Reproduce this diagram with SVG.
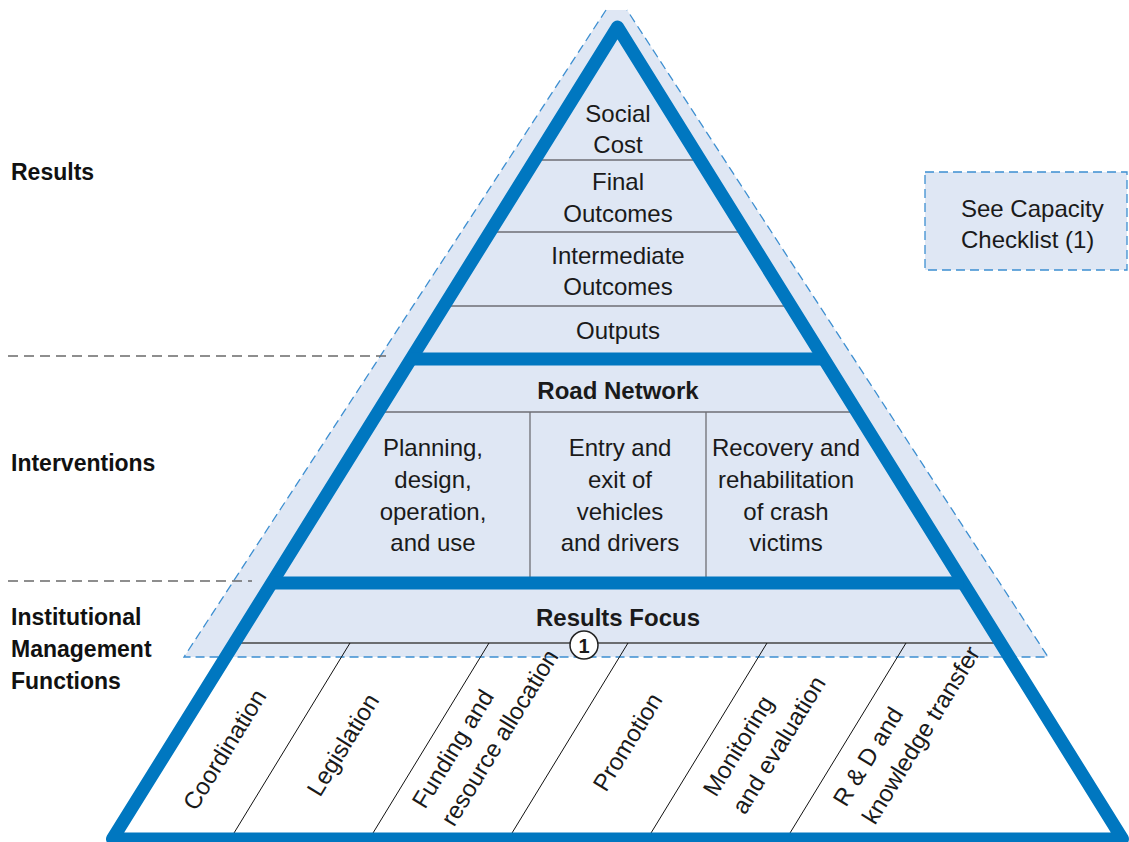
<svg xmlns="http://www.w3.org/2000/svg" width="1129" height="842" viewBox="0 0 1129 842">
<defs>
<style>
.t{font-family:"Liberation Sans",Arial,sans-serif;font-size:24px;fill:#1a1a1a}
.c{text-anchor:middle}
.b{font-weight:bold}
.lb{font-family:"Liberation Sans",Arial,sans-serif;font-size:23px;font-weight:bold;fill:#111}
.thin{stroke:#6e6e74;stroke-width:1.3;fill:none}
.diag{stroke:#111;stroke-width:1;fill:none}
.dash{stroke:#3d8fd1;stroke-width:1.3;stroke-dasharray:9 5;fill:none}
.gdash{stroke:#6a6a6a;stroke-width:1.3;stroke-dasharray:10 6;fill:none}
.blue{stroke:#0077c0;stroke-width:13;fill:none;stroke-linejoin:round}
.lf{fill:#dfe7f4}
</style>
</defs>
<rect width="1129" height="842" fill="#ffffff"/>

<g id="background">
<polygon class="lf" points="606,10 627,10 1048,657 184,657"/>
<polygon fill="#ffffff" points="225.6,657 1009.4,657 1122.5,839 112.5,839"/>
<path class="dash" d="M606,10 L184,657 L1048,657 L627,10"/>
</g>

<g id="connectors">
<line class="gdash" x1="8" y1="356" x2="390" y2="356"/>
<line class="gdash" x1="8" y1="581" x2="252" y2="581"/>
</g>

<g id="results">
<line class="thin" x1="534.8" y1="160" x2="700.2" y2="160"/>
<line class="thin" x1="490" y1="232" x2="745" y2="232"/>
<line class="thin" x1="444" y1="306" x2="791" y2="306"/>
<text class="t c" x="618" y="122">Social</text>
<text class="t c" x="618" y="153">Cost</text>
<text class="t c" x="618" y="190">Final</text>
<text class="t c" x="618" y="222">Outcomes</text>
<text class="t c" x="618" y="264">Intermediate</text>
<text class="t c" x="618" y="295">Outcomes</text>
<text class="t c" x="618" y="339">Outputs</text>
</g>

<g id="interventions">
<line class="thin" x1="378" y1="412" x2="857" y2="412"/>
<line class="thin" x1="530" y1="412" x2="530" y2="577"/>
<line class="thin" x1="706" y1="412" x2="706" y2="577"/>
<text class="t c b" x="618" y="399">Road Network</text>
<text class="t c" x="433" y="456">Planning,</text>
<text class="t c" x="433" y="488">design,</text>
<text class="t c" x="433" y="520">operation,</text>
<text class="t c" x="433" y="551">and use</text>
<text class="t c" x="620" y="456">Entry and</text>
<text class="t c" x="620" y="488">exit of</text>
<text class="t c" x="620" y="520">vehicles</text>
<text class="t c" x="620" y="551">and drivers</text>
<text class="t c" x="786" y="456">Recovery and</text>
<text class="t c" x="786" y="488">rehabilitation</text>
<text class="t c" x="786" y="520">of crash</text>
<text class="t c" x="786" y="551">victims</text>
</g>

<g id="institutional">
<line stroke="#444" stroke-width="1.3" x1="234.5" y1="643" x2="1000.5" y2="643"/>
<text class="t c b" x="618" y="626">Results Focus</text>
<line class="diag" x1="350" y1="643" x2="234" y2="833"/>
<line class="diag" x1="489" y1="643" x2="373" y2="833"/>
<line class="diag" x1="628" y1="643" x2="512" y2="833"/>
<line class="diag" x1="767" y1="643" x2="651" y2="833"/>
<line class="diag" x1="906" y1="643" x2="790" y2="833"/>
<g transform="translate(196,812) rotate(-58.5)"><text class="t" x="0" y="0">Coordination</text></g>
<g transform="translate(320,798) rotate(-58.5)"><text class="t" x="0" y="0">Legislation</text></g>
<g transform="translate(425,810) rotate(-58.5)"><text class="t" x="0" y="0">Funding and</text><text class="t" x="0" y="34">resource allocation</text></g>
<g transform="translate(606,793) rotate(-58.5)"><text class="t" x="0" y="0">Promotion</text></g>
<g transform="translate(716,798) rotate(-58.5)"><text class="t" x="0" y="0">Monitoring</text><text class="t" x="0" y="34">and evaluation</text></g>
<g transform="translate(846,808) rotate(-58.5)"><text class="t" x="0" y="0">R &amp; D and</text><text class="t" x="0" y="34">knowledge transfer</text></g>
</g>

<g id="pyramid-frame">
<polygon class="blue" points="617.5,27 112.5,839 1122.5,839"/>
<line stroke="#0077c0" stroke-width="13" x1="411" y1="359" x2="824" y2="359"/>
<line stroke="#0077c0" stroke-width="13" x1="271.7" y1="583" x2="963.3" y2="583"/>
</g>

<g id="marker-1">
<circle cx="584" cy="645" r="14" fill="#ffffff" stroke="#222" stroke-width="1.5"/>
<text class="t c b" x="584" y="652.5" style="font-size:20px">1</text>
</g>

<g id="capacity-box">
<rect class="lf" x="925" y="172" width="202" height="98"/>
<rect class="dash" x="925" y="172" width="202" height="98"/>
<text class="t" x="961" y="217">See Capacity</text>
<text class="t" x="961" y="248">Checklist (1)</text>
</g>

<g id="labels">
<text class="lb" x="11" y="180">Results</text>
<text class="lb" x="11" y="471">Interventions</text>
<text class="lb" x="11" y="625">Institutional</text>
<text class="lb" x="11" y="657">Management</text>
<text class="lb" x="11" y="689">Functions</text>
</g>
</svg>
